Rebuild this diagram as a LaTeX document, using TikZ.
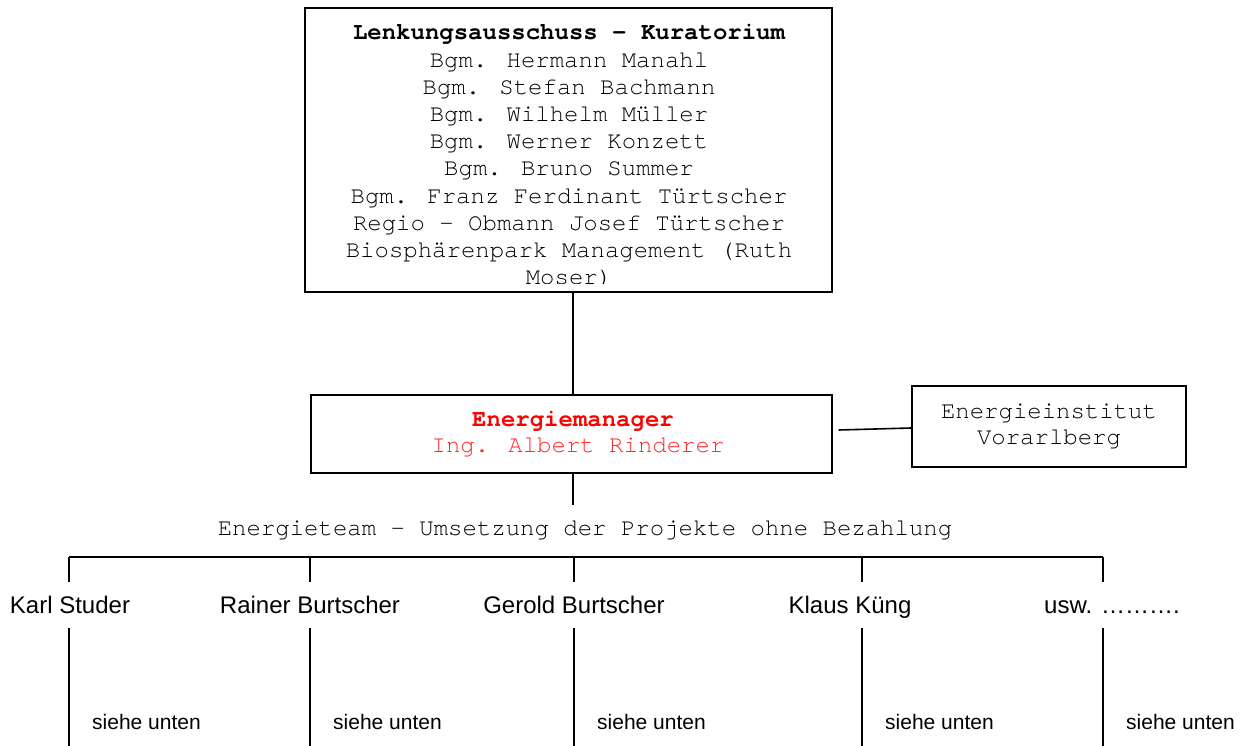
\documentclass[tikz,border=0pt]{standalone}
\usepackage{fontspec}
\setmainfont{Liberation Sans}
\newfontfamily\courier{TeX Gyre Cursor}
\usetikzlibrary{positioning}

\tikzset{
  box/.style={draw, line width=1.4pt, inner sep=0pt},
  mono/.style={font=\courier\fontsize{24}{27}\selectfont, inner sep=0pt, anchor=base, text=black},
  monobold/.style={mono, font=\courier\bfseries\fontsize{24}{27}\selectfont},
  person/.style={font=\fontsize{24}{27}\selectfont, inner sep=0pt, anchor=base},
  hint/.style={font=\fontsize{21}{24}\selectfont, inner sep=0pt, anchor=base west},
  link/.style={line width=1.6pt},
}

\begin{document}
\begin{tikzpicture}[x=1pt,y=-1pt]
	\useasboundingbox (0,0) rectangle (1245,746);
	% Kuratorium
	\node[box, minimum width=527pt, minimum height=284pt] (kura) at (568.5,150) {};
	\begin{scope}
		\clip (kura.north west) rectangle ([yshift=9pt]kura.south east);
		\node[monobold] (kuratitle) at (569,40) {Lenkungsausschuss – Kuratorium};
		\foreach \name [count=\i] in {Bgm. Hermann Manahl, Bgm. Stefan Bachmann, Bgm. Wilhelm Müller, Bgm. Werner Konzett, Bgm. Bruno Summer, Bgm. Franz Ferdinant Türtscher, Regio – Obmann Josef Türtscher, Biosphärenpark Management (Ruth, Moser)}
			\node[mono] (member\i) at (569,{40.5+27.1*\i}) {\name};
	\end{scope}
	% Energiemanager
	\node[box, minimum width=521pt, minimum height=78pt] (mgr) at (571.5,434) {};
	\node[monobold, text=red] (mgrtitle) at (573,426) {Energiemanager};
	\node[mono, text=red!85] (mgrname) at (578,452) {Ing. Albert Rinderer};
	\node[box, minimum width=274pt, minimum height=81pt] (inst) at (1049,426.5) {};
	\node[mono] (insttop) at (1049,418.5) {Energieinstitut};
	\node[mono] (instbot) at (1049,444.5) {Vorarlberg};
	\coordinate (spine) at (573,0);
	\draw[link] (spine |- kura.south) -- (spine |- mgr.north);
	\draw[link] ([xshift=6pt,yshift=4pt]mgr.east) -- ([yshift=-1.5pt]inst.west);
	% Energieteam
	\coordinate (teamtop) at (573,505);
	\draw[link] (spine |- mgr.south) -- (teamtop);
	\node[mono] (team) at (585,535) {Energieteam – Umsetzung der Projekte ohne Bezahlung};
	\foreach \x/\cx/\who [count=\i] in {69/70/Karl Studer, 310/310/Rainer Burtscher, 574/574/Gerold Burtscher, 862/850/Klaus Küng, 1103/1112/usw. ……….}{
		\coordinate (top\i) at (\x,557);
		\coordinate (tick\i) at (\x,582);
		\node[person] (who\i) at (\cx,613) {\who};
		\coordinate (leg\i) at (\x,628);
		\coordinate (foot\i) at (\x,746);
		\draw[link] (top\i) -- (tick\i);
		\draw[link] (leg\i) -- (foot\i);
		\node[hint] (see\i) at (\x+23,729) {siehe unten};
	}
	\draw[link] (top1) -- (top5);
\end{tikzpicture}
\end{document}
